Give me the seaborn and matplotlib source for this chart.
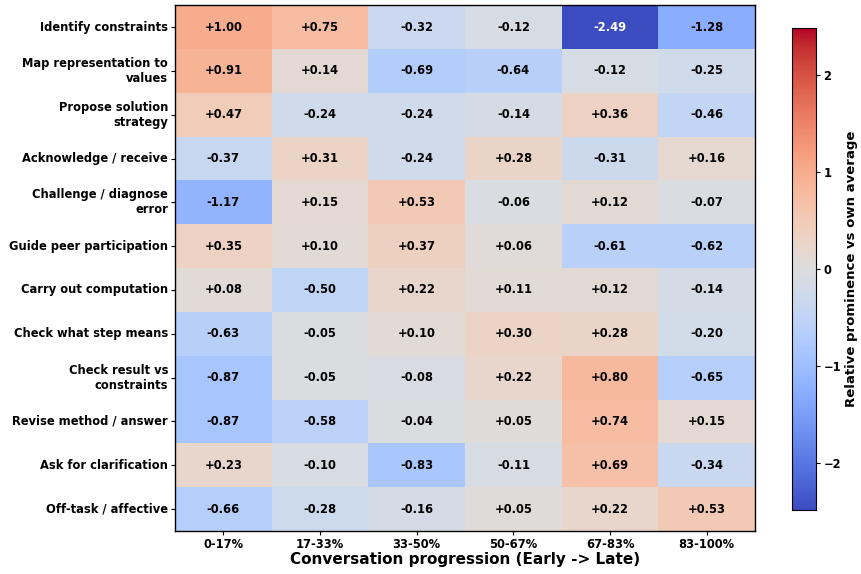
import matplotlib
matplotlib.use("Agg")
import matplotlib.pyplot as plt
import numpy as np
import pandas as pd
import seaborn as sns

moves = [
    "Identify constraints", "Map representation to\nvalues",
    "Propose solution\nstrategy", "Acknowledge / receive",
    "Challenge / diagnose\nerror", "Guide peer participation",
    "Carry out computation", "Check what step means",
    "Check result vs\nconstraints", "Revise method / answer",
    "Ask for clarification", "Off-task / affective"
    ]
phases = ["0-17%", "17-33%", "33-50%", "50-67%", "67-83%", "83-100%"]

identify = [1.00, 0.75, -0.32, -0.12, -2.49, -1.28]
map_repr = [0.91, 0.14, -0.69, -0.64, -0.12, -0.25]
propose = [0.47, -0.24, -0.24, -0.14, 0.36, -0.46]
acknowledge = [-0.37, 0.31, -0.24, 0.28, -0.31, 0.16]
challenge = [-1.17, 0.15, 0.53, -0.06, 0.12, -0.07]
guide = [0.35, 0.10, 0.37, 0.06, -0.61, -0.62]
compute = [0.08, -0.50, 0.22, 0.11, 0.12, -0.14]
check_step = [-0.63, -0.05, 0.10, 0.30, 0.28, -0.20]
check_result = [-0.87, -0.05, -0.08, 0.22, 0.80, -0.65]
revise = [-0.87, -0.58, -0.04, 0.05, 0.74, 0.15]
clarify = [0.23, -0.10, -0.83, -0.11, 0.69, -0.34]
off_task = [-0.66, -0.28, -0.16, 0.05, 0.22, 0.53]

df = pd.DataFrame(
    [identify, map_repr, propose, acknowledge, challenge, guide, compute,
     check_step, check_result, revise, clarify, off_task],
    index = moves, columns = phases
    )
lim = np.abs(df.values).max()

plt.rcParams.update({"font.weight": "bold", "axes.labelweight": "bold"})

fig = plt.figure(figsize = (8.62, 5.74), dpi = 100)
ax = fig.add_axes([0.203, 0.075, 0.673, 0.916])
cax = fig.add_axes([0.919, 0.111, 0.028, 0.841])

sns.heatmap(
    df, ax = ax, cbar_ax = cax, cmap = "coolwarm", vmin = -lim, vmax = lim,
    center = 0, annot = True, fmt = "+.2f",
    annot_kws = {"fontsize": 8.3, "fontweight": "bold"}
    )
# seaborn uses dark grey for text on light cells; reference is black
for t in ax.texts:
    if t.get_color() != "w":
        t.set_color("black")

for side in ax.spines.values():
    side.set_visible(True)
    side.set_linewidth(1)
ax.tick_params(axis = "both", labelsize = 8.3, length = 3, pad = 2)
ax.set_yticklabels(ax.get_yticklabels(), rotation = 0, fontweight = "bold")
ax.set_xticklabels(ax.get_xticklabels(), rotation = 0, fontweight = "bold")
ax.set_xlabel("Conversation progression (Early -> Late)", fontsize = 11,
              fontweight = "bold", labelpad = 1)
ax.set_ylabel("")

cax.tick_params(labelsize = 8.3, length = 3, pad = 2)
for t in cax.get_yticklabels():
    t.set_fontweight("bold")
cax.set_ylabel("Relative prominence vs own average", fontsize = 9.5,
               fontweight = "bold", labelpad = 3)
cax.yaxis.set_label_position("right")
for side in cax.spines.values():
    side.set_visible(True)

fig.savefig("out.png", dpi = 100)
